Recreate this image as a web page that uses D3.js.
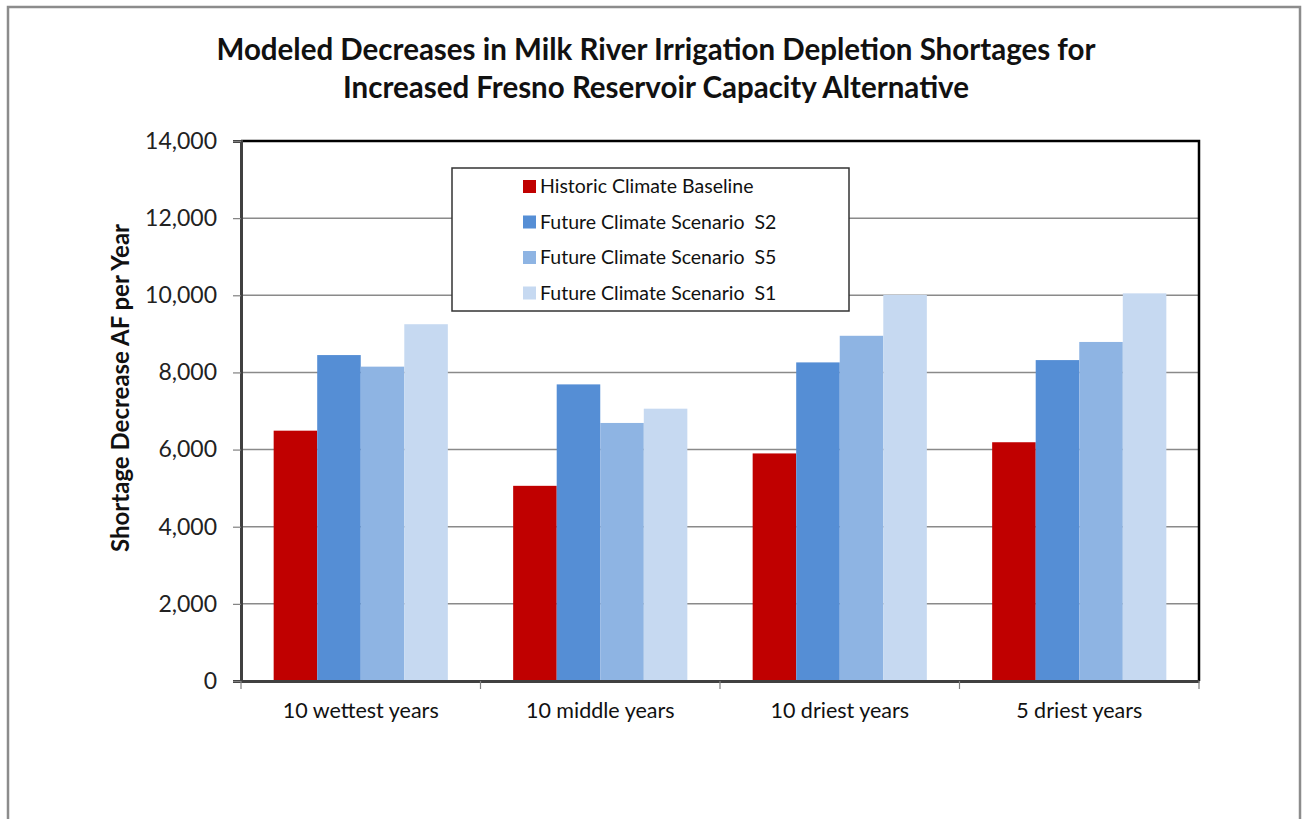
<!DOCTYPE html>
<html>
<head>
<meta charset="utf-8">
<script src="https://d3js.org/d3.v7.min.js"></script>
<style>
body { margin: 0; background: #fff; }
text { font-family: Lato, "Open Sans", sans-serif; }
</style>
</head>
<body>
<div id="chart"></div>
<script>

// data
var categories = ["10 wettest years", "10 middle years", "10 driest years", "5 driest years"];
var seriesNames = ["Historic Climate Baseline", "Future Climate Scenario  S2", "Future Climate Scenario  S5", "Future Climate Scenario  S1"];
var historic = [6490, 5060, 5900, 6190];
var s2 = [8450, 7690, 8260, 8320];
var s5 = [8150, 6690, 8950, 8790];
var s1 = [9250, 7060, 10010, 10050];
var yTicks = [0, 2000, 4000, 6000, 8000, 10000, 12000, 14000];
var colors = ["#C00000", "#558ED5", "#8EB4E3", "#C6D9F1"];

var allSeries = [historic, s2, s5, s1];

var W = 1307, H = 819;
var plot = {left: 241, right: 1199, top: 141, bottom: 681};

var svg = d3.select("#chart").append("svg")
  .attr("width", W)
  .attr("height", H);

// outer frame
svg.append("rect")
  .attr("x", 8).attr("y", 7)
  .attr("width", 1292).attr("height", 830)
  .attr("fill", "#fff")
  .attr("stroke", "#8c8c8c")
  .attr("stroke-width", 2.5);

// scales
var y = d3.scaleLinear().domain([0, 14000]).range([plot.bottom, plot.top]);
var x0 = d3.scaleBand().domain(categories).range([plot.left, plot.right]).padding(0);
var x1 = d3.scaleBand().domain(d3.range(seriesNames.length))
  .range([0, x0.bandwidth()]).paddingInner(0).paddingOuter(0.75);

// gridlines
svg.append("g")
  .selectAll("line")
  .data(yTicks.filter(function(d){ return d > 0 && d < 14000; }))
  .enter().append("line")
    .attr("x1", plot.left).attr("x2", plot.right)
    .attr("y1", function(d){ return y(d); })
    .attr("y2", function(d){ return y(d); })
    .attr("stroke", "#8a8a8a")
    .attr("stroke-width", 1.5);

// bars
var groups = svg.append("g")
  .selectAll("g")
  .data(categories)
  .enter().append("g")
    .attr("transform", function(d){ return "translate(" + x0(d) + ",0)"; });

groups.selectAll("rect")
  .data(function(d, i){ return allSeries.map(function(s, j){ return {s: j, v: s[i]}; }); })
  .enter().append("rect")
    .attr("x", function(d){ return x1(d.s); })
    .attr("y", function(d){ return y(d.v); })
    .attr("width", x1.bandwidth())
    .attr("height", function(d){ return y(0) - y(d.v); })
    .attr("fill", function(d){ return colors[d.s]; });

// plot border top / right
svg.append("path")
  .attr("d", "M" + plot.left + "," + plot.top + "H" + plot.right + "V" + plot.bottom)
  .attr("fill", "none")
  .attr("stroke", "#000")
  .attr("stroke-width", 2.5);

// y axis
var yAxis = svg.append("g")
  .attr("transform", "translate(" + plot.left + ",0)")
  .call(d3.axisLeft(y).tickValues(yTicks).tickSize(8).tickPadding(16)
    .tickFormat(d3.format(",")));
yAxis.select(".domain").attr("stroke", "#404040").attr("stroke-width", 3);
yAxis.selectAll(".tick line").attr("stroke", "#808080").attr("stroke-width", 1.2);
yAxis.selectAll(".tick text")
  .attr("font-family", "Lato, sans-serif")
  .attr("font-size", "23px")
  .attr("fill", "#222");

// x axis
var xAxis = svg.append("g")
  .attr("transform", "translate(0," + plot.bottom + ")")
  .call(d3.axisBottom(x0).tickSize(0).tickPadding(22));
xAxis.select(".domain").attr("stroke", "#404040").attr("stroke-width", 3);
xAxis.selectAll(".tick text")
  .attr("font-family", "Lato, sans-serif")
  .attr("font-size", "21.5px")
  .attr("fill", "#111");
// category boundary ticks
xAxis.selectAll("line.sep")
  .data(d3.range(categories.length + 1))
  .enter().append("line")
    .attr("class", "sep")
    .attr("x1", function(i){ return plot.left + i * x0.step(); })
    .attr("x2", function(i){ return plot.left + i * x0.step(); })
    .attr("y1", 0).attr("y2", 8)
    .attr("stroke", "#808080")
    .attr("stroke-width", 1.2);

// y axis title
svg.append("text")
  .attr("transform", "translate(129,388) rotate(-90)")
  .attr("text-anchor", "middle")
  .attr("font-size", "24px")
  .attr("font-weight", "bold")
  .attr("fill", "#111")
  .text("Shortage Decrease AF per Year");

// title
var title = svg.append("text")
  .attr("text-anchor", "middle")
  .attr("font-size", "29.5px")
  .attr("font-weight", "bold")
  .attr("fill", "#111");
title.append("tspan").attr("x", 656).attr("y", 60)
  .text("Modeled Decreases in Milk River Irrigation Depletion Shortages for");
title.append("tspan").attr("x", 656).attr("y", 98)
  .text("Increased Fresno Reservoir Capacity Alternative");

// legend
var legend = svg.append("g").attr("transform", "translate(452,168)");
legend.append("rect")
  .attr("width", 397).attr("height", 143)
  .attr("fill", "#fff")
  .attr("stroke", "#333")
  .attr("stroke-width", 1.5);
var items = legend.selectAll("g.item")
  .data(seriesNames)
  .enter().append("g")
    .attr("class", "item")
    .attr("transform", function(d, i){ return "translate(71," + (18.5 + i * 35.5) + ")"; });
items.append("rect")
  .attr("x", 0).attr("y", -6.5)
  .attr("width", 13).attr("height", 13)
  .attr("fill", function(d, i){ return colors[i]; });
items.append("text")
  .attr("x", 17).attr("y", 0)
  .attr("dy", "0.35em")
  .attr("font-size", "19.5px")
  .attr("fill", "#111")
  .attr("xml:space", "preserve")
  .style("white-space", "pre")
  .text(function(d){ return d; });

</script>
</body>
</html>
